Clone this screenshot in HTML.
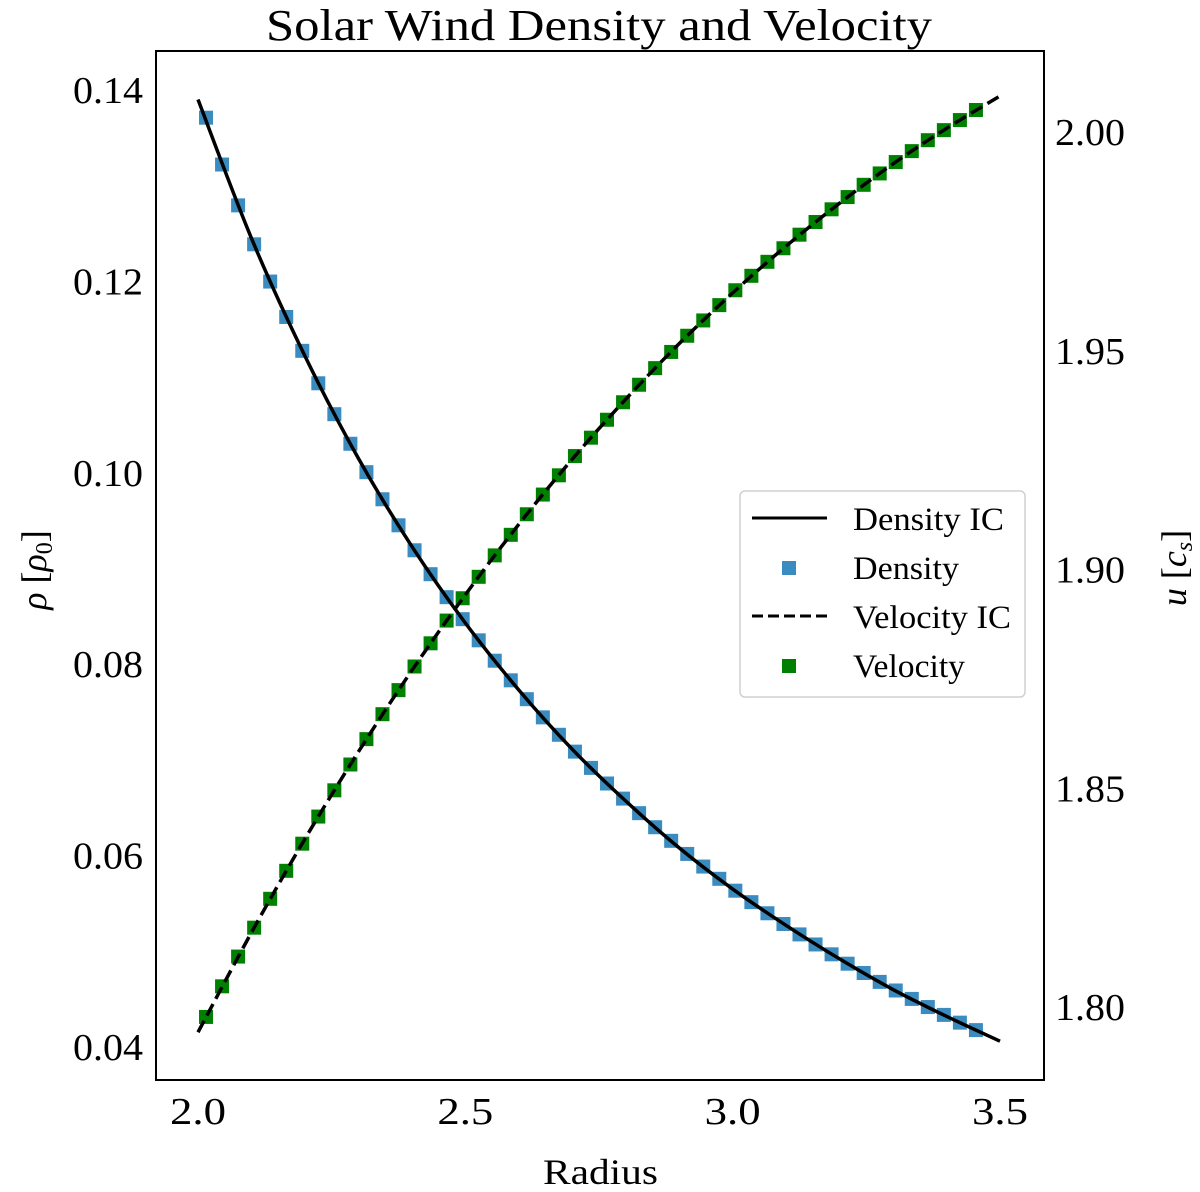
<!DOCTYPE html>
<html><head><meta charset="utf-8"><style>
html,body{margin:0;padding:0;background:#fff;}
svg{display:block;font-family:"Liberation Serif","DejaVu Serif",serif;}
</style></head><body>
<svg id="chart" width="1200" height="1192" viewBox="0 0 1200 1192" xmlns="http://www.w3.org/2000/svg">
<rect x="0" y="0" width="1200" height="1192" fill="#fff"/>
<text x="266" y="40" font-size="44" textLength="666" lengthAdjust="spacingAndGlyphs">Solar Wind Density and Velocity</text>
<g id="plot"></g>
<rect x="156" y="51" width="888" height="1029" fill="none" stroke="#000" stroke-width="2"/>
<g id="ticks"></g>
<text x="543" y="1184" font-size="36" textLength="115" lengthAdjust="spacingAndGlyphs">Radius</text>
<text transform="translate(46,570) rotate(-90)" font-size="36" text-anchor="middle"><tspan font-style="italic">ρ</tspan> [<tspan font-style="italic">ρ</tspan><tspan font-size="24" dy="6">0</tspan><tspan dy="-6">]</tspan></text>
<text transform="translate(1186,568) rotate(-90)" font-size="36" text-anchor="middle"><tspan font-style="italic">u</tspan> [<tspan font-style="italic">c</tspan><tspan font-size="24" font-style="italic" dy="6">s</tspan><tspan dy="-6">]</tspan></text>
<g>
<rect x="740" y="491" width="285" height="206" rx="5" fill="#fff" stroke="#d0d0d0" stroke-width="1.5"/>
<line x1="752" y1="518" x2="827" y2="518" stroke="#000" stroke-width="3"/>
<text x="853" y="530" font-size="33" textLength="151" lengthAdjust="spacingAndGlyphs">Density IC</text>
<rect x="782" y="561" width="14" height="14" fill="#3a8bc0"/>
<text x="853" y="579" font-size="33" textLength="106" lengthAdjust="spacingAndGlyphs">Density</text>
<line x1="752" y1="616" x2="827" y2="616" stroke="#000" stroke-width="3" stroke-dasharray="11,5"/>
<text x="853" y="628" font-size="33" textLength="158" lengthAdjust="spacingAndGlyphs">Velocity IC</text>
<rect x="782" y="659" width="14" height="14" fill="#008000"/>
<text x="853" y="677" font-size="33" textLength="112" lengthAdjust="spacingAndGlyphs">Velocity</text>
</g>
</svg>
<script>
const icRadius = [2.0,2.1,2.2,2.3,2.4,2.5,2.6,2.7,2.8,2.9,3.0,3.1,3.2,3.3,3.4,3.5];
const icDensity = [0.1389,0.1244,0.1121,0.1014,0.0922,0.0842,0.0772,0.0710,0.0656,0.0607,0.0564,0.0526,0.0491,0.0459,0.0431,0.0405];
const icVelocity = [1.7940,1.8168,1.8382,1.8581,1.8767,1.8940,1.9101,1.9250,1.9387,1.9514,1.9630,1.9737,1.9835,1.9925,2.0006,2.0080];
const simRadius = [2.015,2.045,2.075,2.105,2.135,2.165,2.195,2.225,2.255,2.285,2.315,2.345,2.375,2.405,2.435,2.465,2.495,2.525,2.555,2.585,2.615,2.645,2.675,2.705,2.735,2.765,2.795,2.825,2.855,2.885,2.915,2.945,2.975,3.005,3.035,3.065,3.095,3.125,3.155,3.185,3.215,3.245,3.275,3.305,3.335,3.365,3.395,3.425,3.455];
const simDensity = [0.1370,0.13211,0.12784,0.12377,0.11988,0.11618,0.11264,0.10925,0.10602,0.10293,0.09996,0.09713,0.09441,0.09180,0.08930,0.08690,0.08460,0.08239,0.08026,0.07821,0.07624,0.07434,0.07252,0.07076,0.06906,0.06743,0.06585,0.06433,0.06286,0.06144,0.06007,0.05875,0.05747,0.05623,0.05503,0.05387,0.05275,0.05166,0.05061,0.04958,0.04860,0.04763,0.04670,0.04580,0.04492,0.04407,0.04325,0.04244,0.04166];
const simVelocity = [1.7975,1.8045,1.8113,1.8179,1.8245,1.8309,1.8371,1.8433,1.8493,1.8552,1.8610,1.8667,1.8722,1.8776,1.8829,1.8881,1.8932,1.8981,1.9030,1.9077,1.9124,1.9169,1.9213,1.9257,1.9299,1.9340,1.9380,1.9420,1.9458,1.9495,1.9532,1.9567,1.9602,1.9636,1.9669,1.9701,1.9732,1.9763,1.9792,1.9821,1.9849,1.9877,1.9903,1.9929,1.9954,1.9979,2.0002,2.0025,2.0048];
const xTicks = [2.0,2.5,3.0,3.5];
const xTickLabels = ["2.0","2.5","3.0","3.5"];
const leftTicks = [0.04,0.06,0.08,0.10,0.12,0.14];
const leftTickLabels = ["0.04","0.06","0.08","0.10","0.12","0.14"];
const rightTicks = [1.80,1.85,1.90,1.95,2.00];
const rightTickLabels = ["1.80","1.85","1.90","1.95","2.00"];

const NS = "http://www.w3.org/2000/svg";
function xScale(r){ return 198 + (r-2.0)*(1000-198)/1.5; }
function yLeft(v){ return 1046 - (v-0.04)*(1046-89)/0.10; }
function yRight(v){ return 1006 - (v-1.80)*(1006-131)/0.20; }
function mk(tag, attrs, parent){ const e=document.createElementNS(NS,tag); for(const k in attrs) e.setAttribute(k, attrs[k]); parent.appendChild(e); return e; }
function smoothPath(pts){
  let d = "M"+pts[0][0].toFixed(2)+","+pts[0][1].toFixed(2);
  for(let i=0;i<pts.length-1;i++){
    const p0=pts[Math.max(0,i-1)], p1=pts[i], p2=pts[i+1], p3=pts[Math.min(pts.length-1,i+2)];
    const c1=[p1[0]+(p2[0]-p0[0])/6, p1[1]+(p2[1]-p0[1])/6];
    const c2=[p2[0]-(p3[0]-p1[0])/6, p2[1]-(p3[1]-p1[1])/6];
    d += " C"+c1[0].toFixed(2)+","+c1[1].toFixed(2)+" "+c2[0].toFixed(2)+","+c2[1].toFixed(2)+" "+p2[0].toFixed(2)+","+p2[1].toFixed(2);
  }
  return d;
}
const plot = document.getElementById("plot");
const S = 14;
simRadius.forEach((r,i)=>{
  const el = mk("rect",{x:xScale(r)-S/2,y:yLeft(simDensity[i])-S/2,width:S,height:S,fill:"#3a8bc0"},plot);
  
  
});
simRadius.forEach((r,i)=>{
  const el = mk("rect",{x:xScale(r)-S/2,y:yRight(simVelocity[i])-S/2,width:S,height:S,fill:"#008000"},plot);
  
  
});
const dl = mk("path",{d:smoothPath(icRadius.map((r,i)=>[xScale(r),yLeft(icDensity[i])])),fill:"none",stroke:"#000","stroke-width":3.5},plot);


const vl = mk("path",{d:smoothPath(icRadius.map((r,i)=>[xScale(r),yRight(icVelocity[i])])),fill:"none",stroke:"#000","stroke-width":3.5,"stroke-dasharray":"13,6"},plot);



const ticks = document.getElementById("ticks");
xTicks.forEach((t,i)=>{
  const el = mk("text",{x:xScale(t)-28,y:1124,"font-size":38,textLength:56,lengthAdjust:"spacingAndGlyphs"},ticks);
  el.textContent = xTickLabels[i];
  
  
});
leftTicks.forEach((t,i)=>{
  const el = mk("text",{x:73,y:yLeft(t)+14,"font-size":38,textLength:70,lengthAdjust:"spacingAndGlyphs"},ticks);
  el.textContent = leftTickLabels[i];
  
  
});
rightTicks.forEach((t,i)=>{
  const el = mk("text",{x:1055,y:yRight(t)+14,"font-size":38,textLength:70,lengthAdjust:"spacingAndGlyphs"},ticks);
  el.textContent = rightTickLabels[i];
  
  
});
</script>
</body></html>
